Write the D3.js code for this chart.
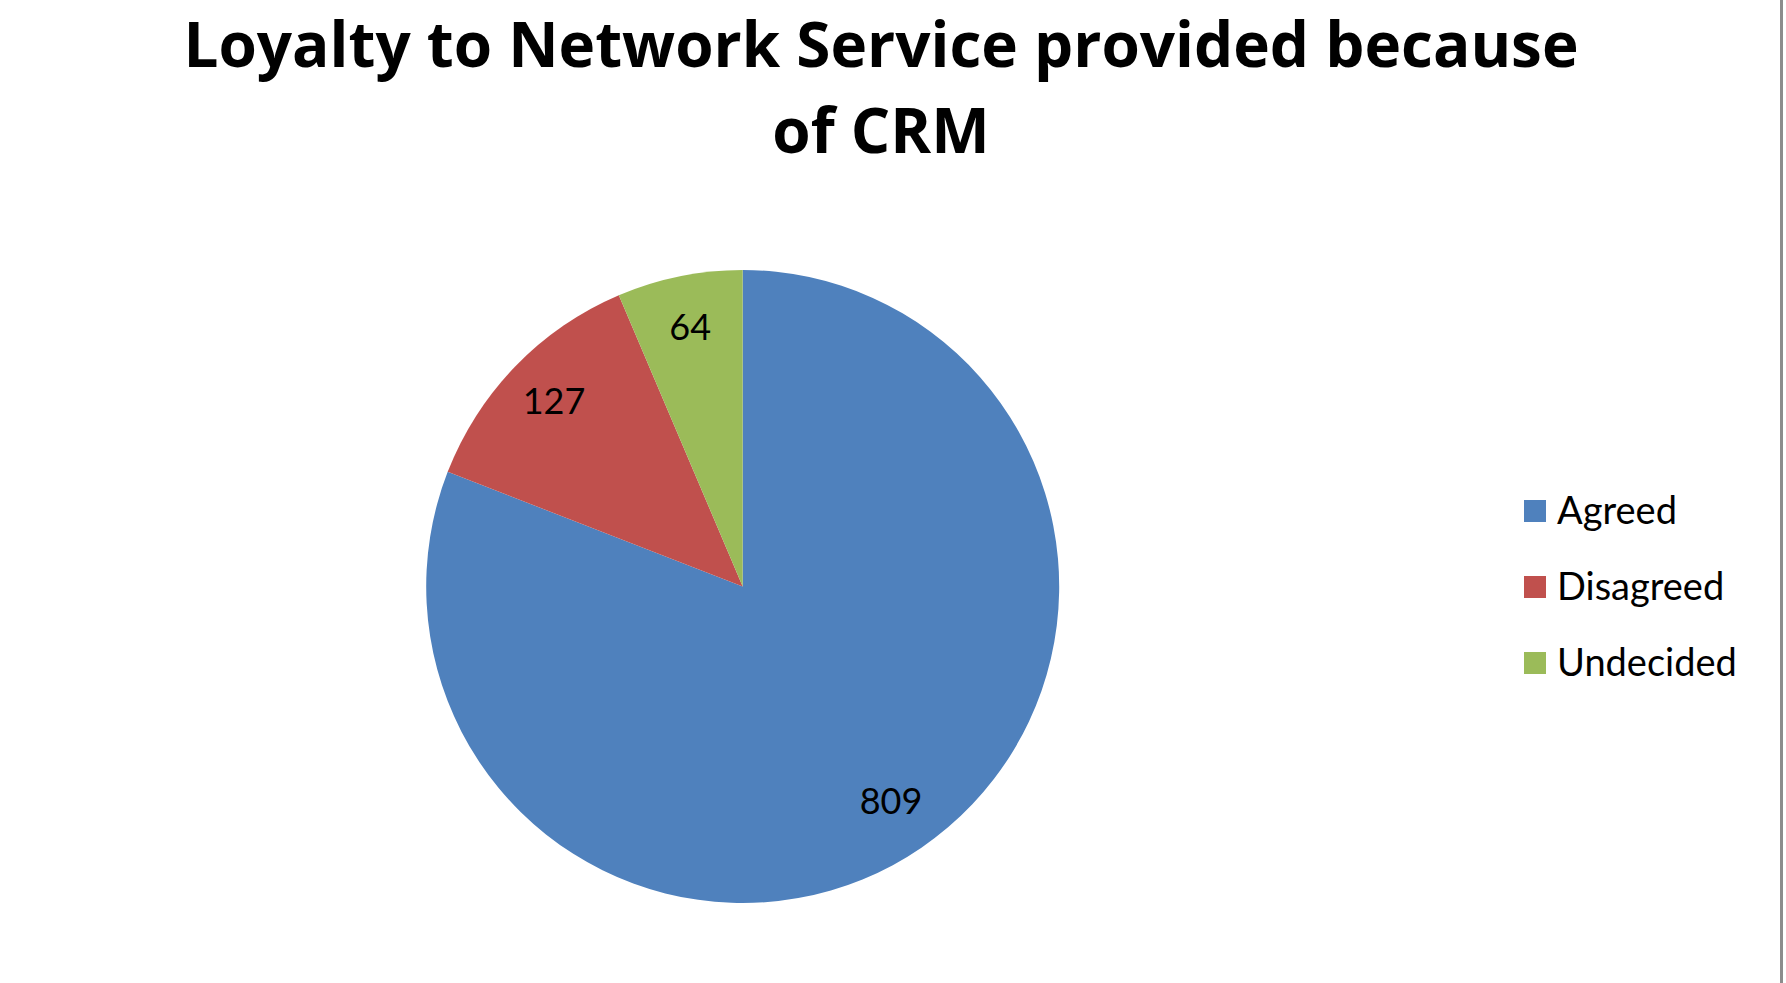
<!DOCTYPE html>
<html>
<head>
<meta charset="utf-8">
<script src="https://cdn.jsdelivr.net/npm/d3@7"></script>
<style>
  body { margin: 0; background: #fff; }
  svg { display: block; }
  text { font-family: Lato, "Open Sans", sans-serif; fill: #000; }
</style>
</head>
<body>
<div id="chart"></div>
<script>
// data
let categories = ['Agreed', 'Disagreed', 'Undecided'];
let values = [809, 127, 64];
let colors = ['#4F81BD', '#C0504D', '#9BBB59'];
let titleLines = ['Loyalty to Network Service provided because', 'of CRM'];

let width = 1786;
let height = 983;

let svg = d3.select('#chart')
  .append('svg')
  .attr('width', width)
  .attr('height', height);

// white plot area with the grey edge on the right
svg.append('rect').attr('width', width).attr('height', height).attr('fill', '#fff');
svg.append('line')
  .attr('x1', 1781.5).attr('x2', 1781.5)
  .attr('y1', 0).attr('y2', height)
  .attr('stroke', '#8c8c8c')
  .attr('stroke-width', 3);

// title, two lines (Open Sans bold is closer in width to the original)
let title = svg.append('g').attr('class', 'title');
title.selectAll('text')
  .data(titleLines)
  .join('text')
  .attr('x', 881)
  .attr('y', (d, i) => 67 + i * 86)
  .attr('text-anchor', 'middle')
  .style('font-family', '"Open Sans", Lato, sans-serif')
  .style('font-size', '62px')
  .style('font-weight', 'bold')
  .text(d => d);

// pie
let cx = 742.7, cy = 586.5, radius = 316.5;
let color = d3.scaleOrdinal().domain(categories).range(colors);

let pie = d3.pie().sort(null).value(d => d.value);
let rows = categories.map((c, i) => ({ name: c, value: values[i] }));
let arcs = pie(rows);

let arc = d3.arc().innerRadius(0).outerRadius(radius);
let labelArc = d3.arc().innerRadius(radius * 0.83).outerRadius(radius * 0.83);

let g = svg.append('g').attr('transform', `translate(${cx},${cy})`);

g.selectAll('path')
  .data(arcs)
  .join('path')
  .attr('d', arc)
  .attr('fill', d => color(d.data.name));

g.selectAll('text')
  .data(arcs)
  .join('text')
  .attr('transform', d => `translate(${labelArc.centroid(d)})`)
  .attr('text-anchor', 'middle')
  .attr('dy', '0.3em')
  .style('font-size', '36px')
  .text(d => d.data.value);

// legend
let legend = svg.append('g').attr('transform', 'translate(1524,500)');
let item = legend.selectAll('g')
  .data(categories)
  .join('g')
  .attr('transform', (d, i) => `translate(0,${i * 76})`);

item.append('rect')
  .attr('width', 22)
  .attr('height', 22)
  .attr('fill', d => color(d));

item.append('text')
  .attr('x', 33)
  .attr('y', 11)
  .attr('dy', '0.33em')
  .style('font-size', '38px')
  .text(d => d);
</script>
</body>
</html>
